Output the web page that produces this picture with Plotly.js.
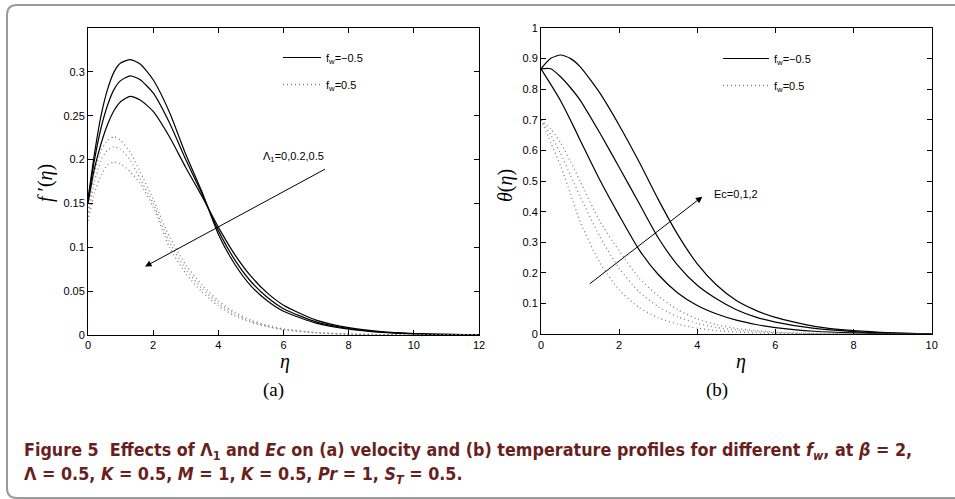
<!DOCTYPE html>
<html><head><meta charset="utf-8">
<script src="https://cdn.plot.ly/plotly-3.0.1.min.js"></script>
<style>html,body{margin:0;padding:0;background:#fff}#chart{width:955px;height:499px}</style>
</head><body><div id="chart"></div>
<script>
// ---- Panel (a): velocity f'(eta) ----
const etaA = [0,0.2,0.4,0.6,0.8,1,1.3,1.6,2,2.5,3,3.5,4,4.5,5,5.5,6,7,8,9,10,11,12];
const fpNeg_L0   = [0.155,0.207,0.25,0.28,0.3,0.31,0.314,0.309,0.291,0.254,0.206,0.163,0.115,0.081,0.056,0.039,0.027,0.0135,0.0066,0.003,0.0013,0.0005,0.0002];
const fpNeg_L02  = [0.153,0.2,0.236,0.262,0.28,0.29,0.2955,0.291,0.276,0.242,0.2,0.161,0.119,0.086,0.061,0.043,0.03,0.015,0.0074,0.0034,0.0015,0.0006,0.0002];
const fpNeg_L05  = [0.15,0.19,0.218,0.24,0.256,0.266,0.272,0.268,0.255,0.226,0.191,0.158,0.123,0.092,0.067,0.048,0.034,0.017,0.0084,0.0039,0.0017,0.0007,0.0003];
const fpPos_L0   = [0.14,0.185,0.21,0.222,0.226,0.222,0.208,0.186,0.155,0.112,0.08,0.057,0.039,0.026,0.017,0.011,0.007,0.0028,0.0011,0.0004,0.00015,0.00005,0];
const fpPos_L02  = [0.135,0.175,0.199,0.211,0.2145,0.212,0.199,0.178,0.15,0.106,0.075,0.053,0.036,0.024,0.0155,0.01,0.0065,0.0026,0.001,0.0004,0.00015,0.00005,0];
const fpPos_L05  = [0.13,0.162,0.182,0.194,0.197,0.195,0.186,0.173,0.146,0.1,0.07,0.049,0.033,0.022,0.0145,0.0095,0.006,0.0024,0.001,0.0004,0.00015,0.00005,0];
const xTicksA = [0,2,4,6,8,10,12];
const yTicksA = [0,0.05,0.1,0.15,0.2,0.25,0.3];

// ---- Panel (b): temperature theta(eta) ----
const etaB = [0,0.25,0.5,0.75,1,1.5,2,2.5,3,3.5,4,4.5,5,5.5,6,7,8,9,10];
const thNeg_Ec0 = [0.866,0.815,0.762,0.7,0.634,0.505,0.388,0.278,0.195,0.135,0.094,0.066,0.046,0.032,0.022,0.01,0.0045,0.002,0.0008];
const thNeg_Ec1 = [0.866,0.866,0.84,0.805,0.764,0.658,0.545,0.43,0.315,0.225,0.16,0.115,0.08,0.056,0.04,0.019,0.009,0.004,0.0015];
const thNeg_Ec2 = [0.866,0.9,0.911,0.9,0.873,0.788,0.682,0.565,0.44,0.325,0.23,0.16,0.11,0.078,0.055,0.026,0.012,0.005,0.002];
const thPos_Ec0 = [0.70,0.625,0.55,0.46,0.368,0.235,0.145,0.088,0.054,0.033,0.02,0.012,0.0075,0.0045,0.0028,0.001,0.0004,0.0001,0];
const thPos_Ec1 = [0.70,0.65,0.59,0.52,0.45,0.32,0.215,0.14,0.09,0.057,0.036,0.022,0.014,0.009,0.0055,0.002,0.0008,0.0003,0.0001];
const thPos_Ec2 = [0.70,0.67,0.625,0.565,0.5,0.37,0.272,0.185,0.125,0.08,0.05,0.031,0.019,0.012,0.0075,0.003,0.0011,0.0004,0.0001];
const xTicksB = [0,2,4,6,8,10];
const yTicksB = [0,0.1,0.2,0.3,0.4,0.5,0.6,0.7,0.8,0.9,1];

// annotation arrows (tail -> head) in data units
const arrowA = {tail:[7.32,0.19], head:[1.75,0.078]};
const arrowB = {tail:[1.21,0.161], head:[4.13,0.449]};

const W = 955, H = 499;
const px = v => v / W;
const py = v => 1 - v / H;

const solid = {color:'#000', width:1.2, shape:'spline', smoothing:0.6};
const dotted = {color:'#808080', width:1.3, dash:'1px,3px', shape:'spline', smoothing:0.6};

function tr(x, y, line, xa, ya, name, show, leg, grp) {
  return {x:x, y:y, type:'scatter', mode:'lines', line:line, xaxis:xa, yaxis:ya,
          name:name, showlegend:show, legend:leg, legendgroup:grp, hoverinfo:'skip'};
}
const nNeg = 'f<sub>w</sub>=\u22120.5';
const nPos = 'f<sub>w</sub>=0.5';
const data = [
  tr(etaA, fpNeg_L0, solid, 'x', 'y', nNeg, true, 'legend', 'a1'),
  tr(etaA, fpNeg_L02, solid, 'x', 'y', nNeg, false, 'legend', 'a1'),
  tr(etaA, fpNeg_L05, solid, 'x', 'y', nNeg, false, 'legend', 'a1'),
  tr(etaA, fpPos_L0, dotted, 'x', 'y', nPos, true, 'legend', 'a2'),
  tr(etaA, fpPos_L02, dotted, 'x', 'y', nPos, false, 'legend', 'a2'),
  tr(etaA, fpPos_L05, dotted, 'x', 'y', nPos, false, 'legend', 'a2'),
  tr(etaB, thNeg_Ec0, solid, 'x2', 'y2', nNeg, true, 'legend2', 'b1'),
  tr(etaB, thNeg_Ec1, solid, 'x2', 'y2', nNeg, false, 'legend2', 'b1'),
  tr(etaB, thNeg_Ec2, solid, 'x2', 'y2', nNeg, false, 'legend2', 'b1'),
  tr(etaB, thPos_Ec0, dotted, 'x2', 'y2', nPos, true, 'legend2', 'b2'),
  tr(etaB, thPos_Ec1, dotted, 'x2', 'y2', nPos, false, 'legend2', 'b2'),
  tr(etaB, thPos_Ec2, dotted, 'x2', 'y2', nPos, false, 'legend2', 'b2')
];

const tickFont = {family:'Liberation Sans, Arial, sans-serif', size:11, color:'#000'};
function ax(extra) {
  return Object.assign({showline:true, linecolor:'#000', linewidth:1, mirror:'ticks',
    ticks:'inside', ticklen:5, tickwidth:1, tickcolor:'#000', showgrid:false, zeroline:false,
    tickfont:tickFont, tickmode:'array', fixedrange:true}, extra);
}
const serif = 'Liberation Serif, DejaVu Serif, serif';
const capFont = {family:'DejaVu Sans Condensed, Liberation Sans, sans-serif', size:17.8, color:'#6a1f1f'};

const legendBase = {bgcolor:'rgba(0,0,0,0)', borderwidth:0, font:{family:'Liberation Sans, Arial, sans-serif', size:11, color:'#000'},
  xanchor:'left', yanchor:'top', tracegroupgap:8, itemwidth:38, traceorder:'grouped'};

const layout = {
  width:W, height:H, margin:{l:0, r:0, t:0, b:0},
  paper_bgcolor:'#fff', plot_bgcolor:'#fff', showlegend:true,
  xaxis: ax({domain:[px(88), px(479)], range:[0,12], anchor:'y', tickvals:xTicksA}),
  yaxis: ax({domain:[py(335), py(28)], range:[0,0.35], anchor:'x', tickvals:yTicksA}),
  xaxis2: ax({domain:[px(541), px(931.7)], range:[0,10], anchor:'y2', tickvals:xTicksB}),
  yaxis2: ax({domain:[py(334.3), py(27.7)], range:[0,1], anchor:'x2', tickvals:yTicksB}),
  legend: Object.assign({}, legendBase, {x:px(278), y:py(43)}),
  legend2: Object.assign({}, legendBase, {x:px(718), y:py(44), itemwidth:46}),
  shapes: [{
    type:'path', xref:'paper', yref:'paper', layer:'below',
    path:'M '+px(970)+','+py(5)+' L '+px(17)+','+py(5)+' Q '+px(7)+','+py(5)+' '+px(7)+','+py(15)+
         ' L '+px(7)+','+py(488)+' Q '+px(7)+','+py(498)+' '+px(17)+','+py(498)+' L '+px(970)+','+py(498),
    line:{color:'#9a9a9a', width:2}
  }],
  annotations: [
    {xref:'x', yref:'y', x:arrowA.head[0], y:arrowA.head[1], axref:'x', ayref:'y', ax:arrowA.tail[0], ay:arrowA.tail[1],
     showarrow:true, arrowhead:2, arrowsize:1.3, arrowwidth:1, arrowcolor:'#000', text:''},
    {xref:'x2', yref:'y2', x:arrowB.head[0], y:arrowB.head[1], axref:'x2', ayref:'y2', ax:arrowB.tail[0], ay:arrowB.tail[1],
     showarrow:true, arrowhead:2, arrowsize:1.3, arrowwidth:1, arrowcolor:'#000', text:''},
    {xref:'paper', yref:'paper', x:px(261), y:py(157), xanchor:'left', yanchor:'middle', showarrow:false,
     text:'\u039b<sub>1</sub>=0,0.2,0.5', font:{family:'Liberation Sans, Arial, sans-serif', size:11, color:'#000'}},
    {xref:'paper', yref:'paper', x:px(712), y:py(194), xanchor:'left', yanchor:'middle', showarrow:false,
     text:'Ec=0,1,2', font:{family:'Liberation Sans, Arial, sans-serif', size:11, color:'#000'}},
    {xref:'paper', yref:'paper', x:px(45), y:py(183), xanchor:'center', yanchor:'middle', showarrow:false, textangle:-90,
     text:'<i>f</i> \u2032(<i>\u03b7</i>)', font:{family:serif, size:20, color:'#000'}},
    {xref:'paper', yref:'paper', x:px(505), y:py(185), xanchor:'center', yanchor:'middle', showarrow:false, textangle:-90,
     text:'<i>\u03b8</i>(<i>\u03b7</i>)', font:{family:serif, size:20, color:'#000'}},
    {xref:'paper', yref:'paper', x:px(285), y:py(361), xanchor:'center', yanchor:'middle', showarrow:false,
     text:'<i>\u03b7</i>', font:{family:serif, size:20, color:'#000'}},
    {xref:'paper', yref:'paper', x:px(741), y:py(361), xanchor:'center', yanchor:'middle', showarrow:false,
     text:'<i>\u03b7</i>', font:{family:serif, size:20, color:'#000'}},
    {xref:'paper', yref:'paper', x:px(273), y:py(390), xanchor:'center', yanchor:'middle', showarrow:false,
     text:'(a)', font:{family:serif, size:19, color:'#000'}},
    {xref:'paper', yref:'paper', x:px(717), y:py(390), xanchor:'center', yanchor:'middle', showarrow:false,
     text:'(b)', font:{family:serif, size:19, color:'#000'}},
    {xref:'paper', yref:'paper', x:px(22), y:py(451), xanchor:'left', yanchor:'middle', showarrow:false, align:'left',
     text:'<b>Figure 5\u00a0\u00a0Effects of \u039b<sub>1</sub> and <i>Ec</i> on (a) velocity and (b) temperature profiles for different <i>f<sub>w</sub></i>, at <i>\u03b2</i> = 2,</b>',
     font:capFont},
    {xref:'paper', yref:'paper', x:px(22), y:py(475), xanchor:'left', yanchor:'middle', showarrow:false, align:'left',
     text:'<b>\u039b = 0.5, <i>K</i> = 0.5, <i>M</i> = 1, <i>K</i> = 0.5, <i>Pr</i> = 1, <i>S<sub>T</sub></i> = 0.5.</b>',
     font:capFont}
  ]
};

Plotly.newPlot('chart', data, layout, {staticPlot:true, displayModeBar:false});
</script>
</body></html>
